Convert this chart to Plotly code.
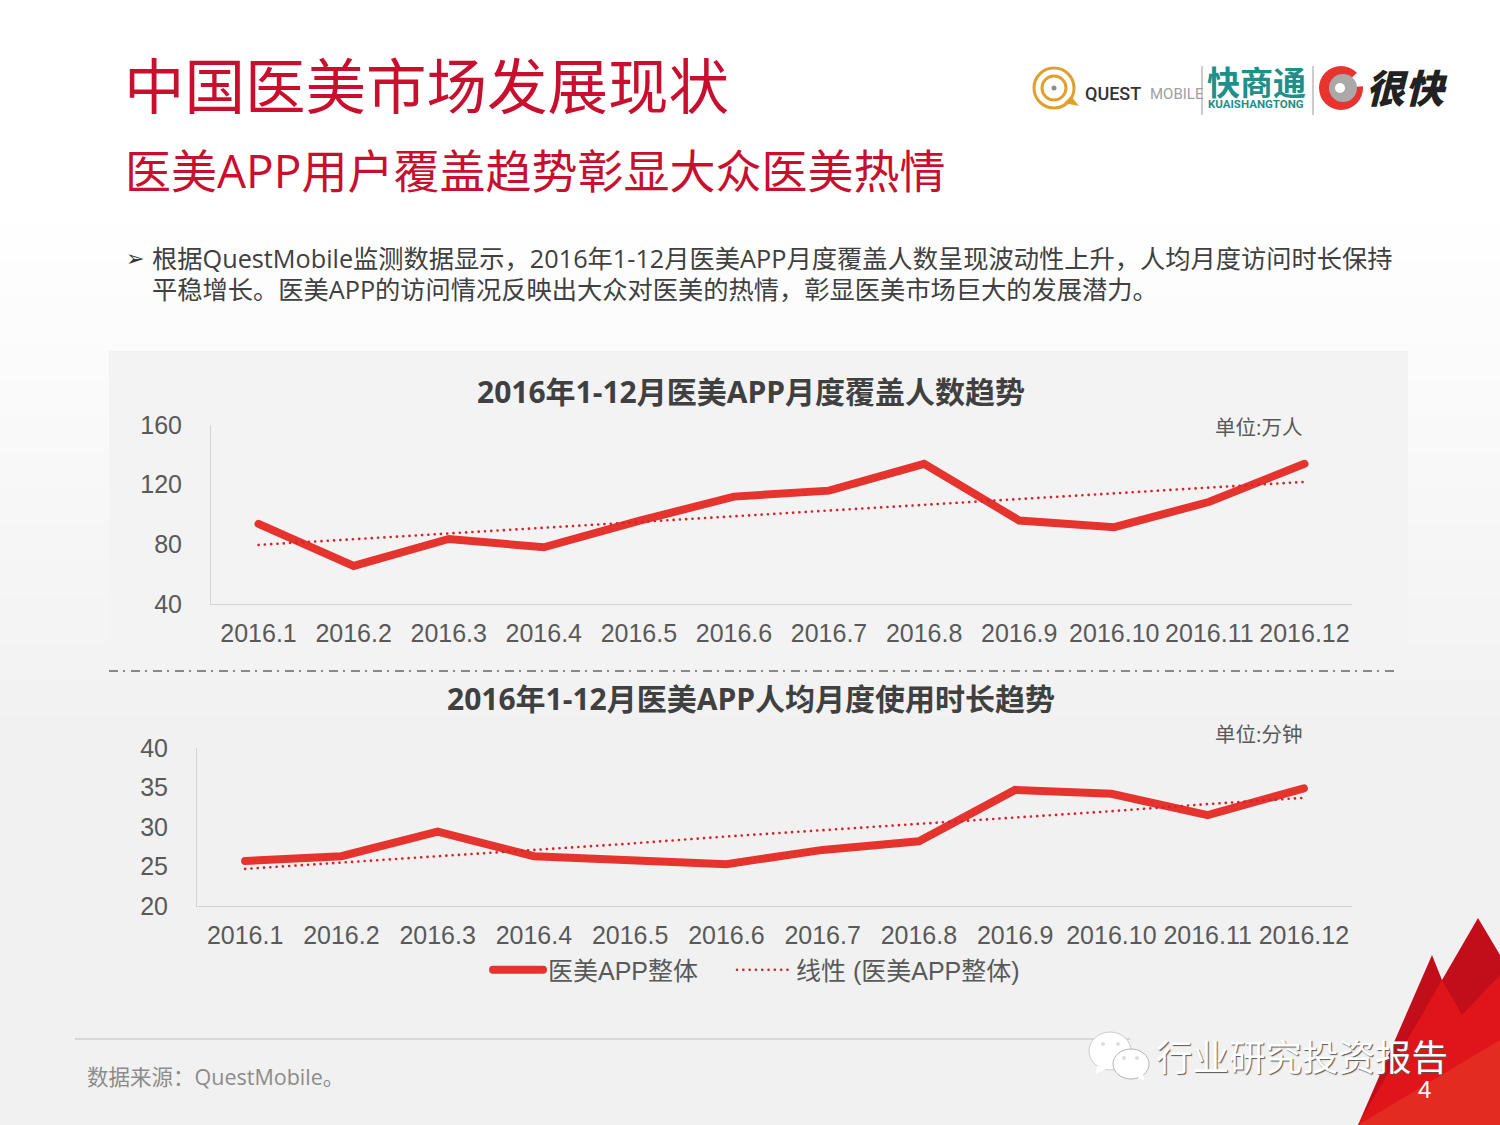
import plotly.graph_objects as go

W = 1500
H = 1125

months = ["2016.1", "2016.2", "2016.3", "2016.4", "2016.5", "2016.6",
          "2016.7", "2016.8", "2016.9", "2016.10", "2016.11", "2016.12"]

# monthly coverage (10k people)
cover_values = [93.7, 65.5, 83.6, 78.0, 95.7, 112.0, 116.0, 134.0, 96.0, 91.5, 108.5, 134.0]
cover_trend = [79.6, 83.4, 87.3, 91.1, 95.0, 98.8, 102.7, 106.5, 110.3, 114.2, 118.0, 121.9]
cover_ticks = [40, 80, 120, 160]

# monthly time per user (minutes)
time_values = [25.7, 26.3, 29.4, 26.3, 25.8, 25.3, 27.1, 28.2, 34.7, 34.2, 31.5, 34.9]
time_trend = [24.7, 25.5, 26.3, 27.1, 27.9, 28.8, 29.6, 30.4, 31.2, 32.0, 32.9, 33.7]
time_ticks = [20, 25, 30, 35, 40]

RED = "#e5332e"
DOT_RED = "#d8232a"
TITLE_RED = "#c8102e"
GREY = "#595959"
CJK = "Open Sans, Noto Sans CJK SC"
LATIN = "Liberation Sans, Noto Sans CJK SC"


def px(x):
    return x / W


def py(y):
    return 1 - y / H


shapes = []
notes = []


def rect(x0, y0, x1, y1, color):
    shapes.append(dict(type="rect", xref="paper", yref="paper", layer="below",
                       x0=px(x0), x1=px(x1), y0=py(y0), y1=py(y1),
                       fillcolor=color, line_width=0))


def line(x0, y0, x1, y1, color, width=1, dash="solid"):
    shapes.append(dict(type="line", xref="paper", yref="paper", layer="below",
                       x0=px(x0), x1=px(x1), y0=py(y0), y1=py(y1),
                       line=dict(color=color, width=width, dash=dash)))


def circle(cx, cy, r, fill="rgba(0,0,0,0)", edge="rgba(0,0,0,0)", width=0, ry=None):
    ry = ry or r
    shapes.append(dict(type="circle", xref="paper", yref="paper", layer="below",
                       x0=px(cx - r), x1=px(cx + r), y0=py(cy + ry), y1=py(cy - ry),
                       fillcolor=fill, line=dict(color=edge, width=width)))


def poly(points, color):
    d = "M " + " L ".join(f"{px(x):.5f},{py(y):.5f}" for x, y in points) + " Z"
    shapes.append(dict(type="path", xref="paper", yref="paper", layer="below",
                       path=d, fillcolor=color, line_width=0))


def text(x, y, s, size, color, anchor="left", family=CJK, weight=None, style=None, shadow=None):
    font = dict(size=size, color=color, family=family)
    if weight:
        font["weight"] = weight
    if style:
        font["style"] = style
    if shadow:
        font["shadow"] = shadow
    notes.append(dict(xref="paper", yref="paper", x=px(x), y=py(y), text=s,
                      xanchor=anchor, yanchor="middle", showarrow=False,
                      font=font, borderpad=0))


# page gradient, white at the top fading to light grey
steps = 45
for i in range(steps):
    v = round(255 - 14 * i / (steps - 1))
    rect(0, 200 + i * 12, W, 200 + (i + 1) * 12, f"rgb({v},{v},{v})")
rect(0, 200 + steps * 12, W, H, "rgb(241,241,241)")

# panel behind the charts
rect(109, 351, 1408, 672, "#f3f3f3")

line(109, 671, 1395, 671, "#666666", 1.3, "9px,5px,2px,6px")
line(75, 1039, 1130, 1039, "#bdbdbd", 1)

# red corner
poly([(1358, 1125), (1432, 955), (1442, 980), (1478, 918), (1500, 955), (1500, 1125)], "#c20d1a")
poly([(1358, 1125), (1442, 980), (1462, 1015), (1500, 975), (1500, 1125)], "#e0151a")
poly([(1358, 1125), (1500, 1040), (1500, 1125)], "#e32b22")

# logos
circle(1054, 88, 20, edge="#e0a02e", width=3)
circle(1054, 88, 12, edge="#e0a02e", width=3)
circle(1054, 88, 2.5, fill="#8c8c8c")
poly([(1064, 103), (1079, 106), (1071, 96)], "#e0a02e")
line(1202, 66, 1202, 115, "#bbbbbb", 1.5)
line(1313, 66, 1313, 115, "#bbbbbb", 1.5)
circle(1341, 88, 22, fill="#e8332f")
poly([(1341, 88), (1366, 64), (1366, 86)], "#ffffff")
circle(1343, 88, 14, fill="#a9a9a9")
circle(1340, 88, 5, fill="#ffffff")
text(1084, 93, "QUEST", 18, "#333333", family="Roboto", weight=500)
text(1149, 94, "MOBILE", 15, "#a0a0a0", family="Roboto")
text(1206, 82, "快商通", 33, "#1f8f8a", weight=700)
text(1207, 104, "KUAISHANGTONG", 11.5, "#1f8f8a", family="Roboto", weight=700)
text(1365, 88, "很快", 39, "#222222", weight=900, style="italic")

# wechat mark
circle(1110, 1051, 21, fill="#ffffff", edge="#cccccc", width=1, ry=19)
poly([(1097, 1066), (1096, 1074), (1108, 1068)], "#ffffff")
circle(1103, 1044, 2, fill="#dddddd")
circle(1118, 1044, 2, fill="#dddddd")
circle(1131, 1064, 18, fill="#ffffff", edge="#b5b5b5", width=1, ry=15)
poly([(1136, 1076), (1144, 1081), (1143, 1072)], "#ffffff")
circle(1124, 1058, 2, fill="#dddddd")
circle(1137, 1058, 2, fill="#dddddd")

# heading and intro
text(123, 85, "中国医美市场发展现状", 60.5, TITLE_RED)
text(124, 170, "医美APP用户覆盖趋势彰显大众医美热情", 46, TITLE_RED)
text(125, 258, "➢", 22, "#333333", family="DejaVu Sans", weight=700)
text(151, 258, "根据QuestMobile监测数据显示，2016年1-12月医美APP月度覆盖人数呈现波动性上升，人均月度访问时长保持",
     25.25, "#404040")
text(151, 289, "平稳增长。医美APP的访问情况反映出大众对医美的热情，彰显医美市场巨大的发展潜力。",
     25.25, "#404040")

# chart titles and units
text(751, 391, "2016年1-12月医美APP月度覆盖人数趋势", 30, "#404040", anchor="center", weight=700)
text(751, 698, "2016年1-12月医美APP人均月度使用时长趋势", 30, "#404040", anchor="center", weight=700)
text(1214, 427, "单位:万人", 20.5, GREY)
text(1214, 734, "单位:分钟", 20.5, GREY)

# footer
text(86, 1076, "数据来源：QuestMobile。", 21.5, "#8c8c8c")
text(1155, 1057, "行业研究投资报告", 36.5, "#ffffff", shadow="1px 1px 1px #555555")
text(1424, 1089, "4", 24, "#ffffff", anchor="center", family="Liberation Sans")

fig = go.Figure()
fig.add_trace(go.Scatter(x=months, y=cover_values, mode="lines", showlegend=False,
                         line=dict(color=RED, width=8), xaxis="x", yaxis="y"))
fig.add_trace(go.Scatter(x=months, y=cover_trend, mode="lines", showlegend=False,
                         line=dict(color=DOT_RED, width=2.6, dash="0.1px,6.2px"), xaxis="x", yaxis="y"))
fig.add_trace(go.Scatter(x=months, y=time_values, mode="lines", name="医美APP整体",
                         line=dict(color=RED, width=8), xaxis="x2", yaxis="y2"))
fig.add_trace(go.Scatter(x=months, y=time_trend, mode="lines", name="线性 (医美APP整体)",
                         legend="legend2",
                         line=dict(color=DOT_RED, width=2.6, dash="0.1px,6.2px"), xaxis="x2", yaxis="y2"))

axis_font = dict(family=LATIN, size=25, color=GREY)
legend_font = dict(family=LATIN, size=25, color=GREY)


def x_axis(domain, anchor):
    return dict(domain=domain, anchor=anchor, type="category", range=[-0.5, 11.5],
                showgrid=False, zeroline=False, showline=True, linecolor="#d4d4d4",
                linewidth=1, ticks="outside", ticklen=6.5, tickcolor="rgba(0,0,0,0)",
                tickangle=0, tickfont=axis_font)


def y_axis(domain, anchor, rng, ticks):
    return dict(domain=domain, anchor=anchor, range=rng, tickvals=ticks,
                showgrid=False, zeroline=False, showline=True, linecolor="#d4d4d4",
                linewidth=1, ticks="outside", ticklen=23, tickcolor="rgba(0,0,0,0)",
                tickfont=axis_font)


fig.update_layout(
    width=W, height=H,
    margin=dict(l=0, r=0, t=0, b=0, autoexpand=False),
    paper_bgcolor="#ffffff",
    plot_bgcolor="rgba(0,0,0,0)",
    shapes=shapes,
    annotations=notes,
    hovermode=False,
    font=dict(family=LATIN, color=GREY),
    xaxis=x_axis([px(211), px(1352)], "y"),
    yaxis=y_axis([py(604), py(425)], "x", [40, 160], cover_ticks),
    xaxis2=x_axis([px(197), px(1352)], "y2"),
    yaxis2=y_axis([py(906), py(748)], "x2", [20, 40], time_ticks),
    legend=dict(orientation="h", x=px(488), y=py(970), xanchor="left", yanchor="middle",
                bgcolor="rgba(0,0,0,0)", itemwidth=50, font=legend_font),
    legend2=dict(orientation="h", x=px(732), y=py(970), xanchor="left", yanchor="middle",
                 bgcolor="rgba(0,0,0,0)", itemwidth=54, font=legend_font),
)

page_js = """
document.body.style.margin = '0';
document.querySelectorAll('.js-line').forEach(function (p) { p.style.strokeLinecap = 'round'; });
"""

fig.write_html("out.html", post_script=page_js, config=dict(displayModeBar=False))
